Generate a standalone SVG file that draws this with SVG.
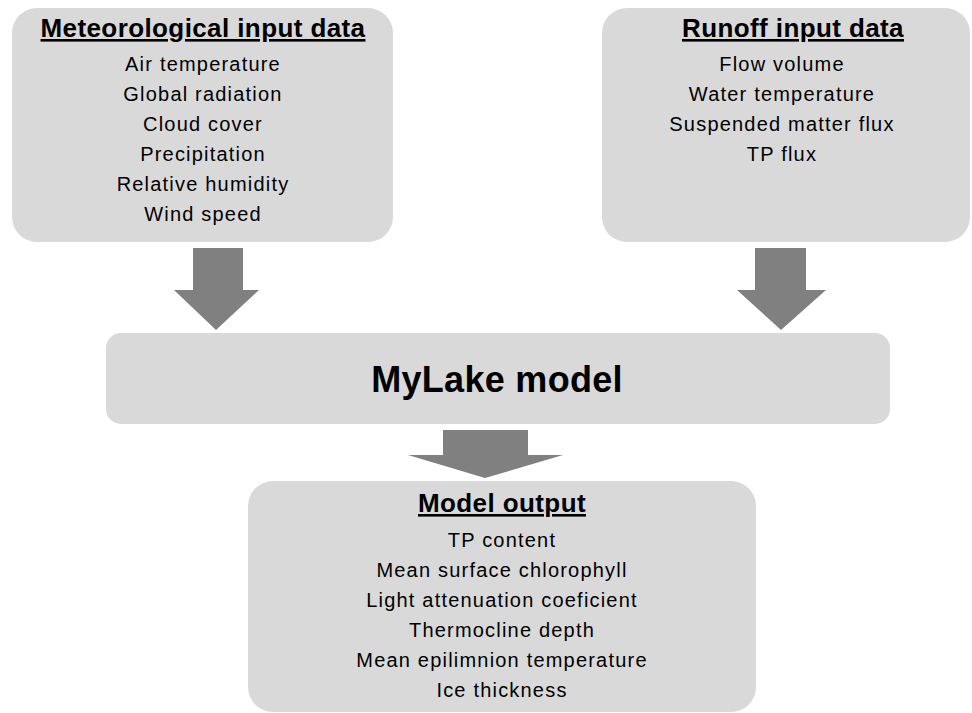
<svg xmlns="http://www.w3.org/2000/svg" width="972" height="713" viewBox="0 0 972 713">
<style>
.box{fill:#d9d9d9}
.arr{fill:#808080}
.t{font-family:"Liberation Sans",Arial,sans-serif;text-anchor:middle;fill:#000}
.h{font-size:26px;font-weight:bold;text-decoration:underline;letter-spacing:0.4px}
.i{font-size:20px;letter-spacing:1.2px}
.m{font-size:36px;font-weight:bold;letter-spacing:0.3px}
</style>
<rect width="972" height="713" fill="#fff"/>
<g id="connectors">
<polygon class="arr" points="193,248 243,248 243,290 259,290 216,330 174,290 193,290"/>
<polygon class="arr" points="755,248 806,248 806,290 826,290 781,330 737,290 755,290"/>
<polygon class="arr" points="443,430 528,430 528,455 563,455 485,478 408,455 443,455"/>
</g>
<g id="meteo">
<rect class="box" x="12" y="8" width="381" height="234" rx="25"/>
<text class="t h" x="203" y="37">Meteorological input data</text>
<text class="t i" x="203" y="71">Air temperature</text>
<text class="t i" x="203" y="101">Global radiation</text>
<text class="t i" x="203" y="131">Cloud cover</text>
<text class="t i" x="203" y="161">Precipitation</text>
<text class="t i" x="203" y="191">Relative humidity</text>
<text class="t i" x="203" y="221">Wind speed</text>
</g>
<g id="runoff">
<rect class="box" x="602" y="8" width="368" height="234" rx="25"/>
<text class="t h" x="793" y="37">Runoff input data</text>
<text class="t i" x="782" y="71">Flow volume</text>
<text class="t i" x="782" y="101">Water temperature</text>
<text class="t i" x="782" y="131">Suspended matter flux</text>
<text class="t i" x="782" y="161">TP flux</text>
</g>
<g id="mylake">
<rect class="box" x="106" y="333" width="784" height="91" rx="15"/>
<text class="t m" x="497" y="392">MyLake model</text>
</g>
<g id="output">
<rect class="box" x="248" y="481" width="508" height="231" rx="25"/>
<text class="t h" x="502" y="512">Model output</text>
<text class="t i" x="502" y="547">TP content</text>
<text class="t i" x="502" y="577">Mean surface chlorophyll</text>
<text class="t i" x="502" y="607">Light attenuation coeficient</text>
<text class="t i" x="502" y="637">Thermocline depth</text>
<text class="t i" x="502" y="667">Mean epilimnion temperature</text>
<text class="t i" x="502" y="697">Ice thickness</text>
</g>
</svg>
